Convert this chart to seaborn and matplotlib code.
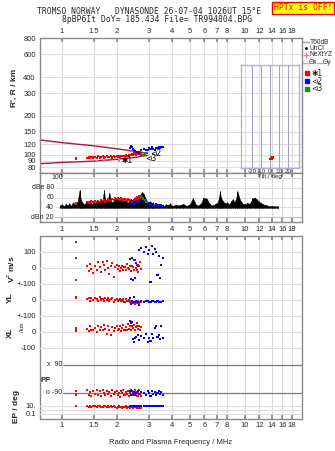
import matplotlib
matplotlib.use("Agg")
import matplotlib.pyplot as plt
import seaborn as sns
from matplotlib.lines import Line2D
from matplotlib.ticker import FixedLocator, FixedFormatter, NullLocator

sns.set_theme(style="white")
plt.rcParams['font.family'] = ['Liberation Sans', 'DejaVu Sans']

# ---- data ----
freq_ticks = [1, 1.5, 2, 3, 4, 5, 6, 7, 8, 10, 12, 14, 16, 18]
freq_labels = ["1", "1.5", "2", "3", "4", "5", "6", "7", "8", "10", "12", "14", "16", "18"]
height_ticks = [80, 90, 100, 120, 150, 200, 300, 400, 600, 800]
tilt_ticks = [-20, -10, 0, 10, 20]
tilt_labels = ["-20", "-10", "0", "10", "20"]

# O-mode trace (1), red
red_freq = [1.20, 1.20, 1.20, 1.37, 1.40, 1.42, 1.45, 1.48, 1.52, 1.55, 1.58, 1.61, 1.64,
            1.67, 1.70, 1.73, 1.76, 1.79, 1.82, 1.86, 1.89, 1.93, 1.96, 1.99, 2.02, 2.05,
            2.08, 2.11, 2.14, 2.17, 2.20, 2.23, 2.26, 2.29, 2.32, 2.35, 2.38, 2.41, 2.44,
            2.47, 2.50, 2.53, 2.56, 2.59, 2.62, 2.65, 2.68, 2.70]
red_height = [93, 94, 92, 94, 95, 94, 96, 95, 96, 94, 97, 95, 96, 97, 95, 96, 97, 96,
              96, 97, 95, 97, 96, 97, 96, 98, 96, 97, 97, 98, 97, 99, 98, 98, 99, 100,
              99, 101, 100, 102, 101, 100, 103, 101, 103, 102, 104, 102]
red_amp = [48, 47, 49, 50, 51, 49, 52, 50, 53, 51, 52, 50, 54, 52, 55, 51, 53, 56,
           54, 52, 57, 55, 58, 56, 59, 57, 55, 58, 56, 54, 57, 55, 53, 56, 54, 52,
           55, 53, 51, 54, 56, 58, 55, 60, 57, 62, 59, 61]
red_vz = [165, 65, -75, 10, -20, 25, -5, -30, 15, -10, 35, 5, -25, 40, 20, -15, 45, 0,
          -35, 10, 30, -55, 5, 20, -5, 15, -20, 0, 10, -10, 5, -15, 25, 0, -5, 10,
          -20, 15, 5, -10, 50, 0, -15, 20, -25, 10, 35, -5]
red_yl = [20, 12, 15, 5, 15, -5, 10, 0, 12, 5, -8, 20, 3, 8, -5, 15, 0, 10,
          -3, 5, 12, -10, 2, 5, -5, 0, 8, -8, -3, 3, -10, 5, -5, -8, 0, -15,
          -5, -12, -20, -10, -25, -15, -5, -18, -8, -22, -12, -15]
red_xl = [25, 8, 15, 20, 5, 35, 10, 15, 25, 0, 40, 15, 30, 10, 45, 20, -10, 35,
          15, -20, 30, 5, 25, 40, 10, 20, 35, 5, 25, 45, 15, 30, 10, 50, 20, 35,
          15, 40, 25, 45, 10, 30, 55, 35, 20, 40, 15, 30]
red_pp = [-100, -80, -95, -70, -105, -85, -110, -75, -95, -68, -100, -80, -112,
          -72, -90, -105, -78, -95, -85, -110, -70, -98, -82, -76, -102, -88, -115,
          -80, -92, -70, -105, -84, -96, -78, -110, -90, -72, -100, -86, -104, -74,
          -95, -82, -108, -88, -70, -98, -112]
red_ep = [10, 8, 9, 9, 7, 10, 6, 8, 9, 5, 8, 10, 7, 6, 9, 8, 5, 10, 7, 9, 6, 8, 5,
          4, 6, 8, 5, 7, 4, 6, 5, 9, 4, 5, 7, 4, 6, 5, 4, 8, 5, 6, 4, 7, 5, 3, 6, 4]

# X-mode trace (2), blue
blue_freq = [2.35, 2.38, 2.42, 2.45, 2.48, 2.52, 2.55, 2.60, 2.65, 2.72, 2.80, 2.88,
             2.95, 3.00, 3.05, 3.10, 3.15, 3.22, 3.28, 3.33, 3.38, 3.44, 3.50, 3.56]
blue_height = [112, 116, 114, 110, 108, 106, 105, 104, 103, 108, 111, 109,
               108, 112, 110, 114, 111, 109, 112, 113, 114, 113, 114, 115]
blue_amp = [50, 48, 52, 46, 50, 47, 53, 49, 51, 55, 52, 50,
            46, 48, 44, 47, 45, 43, 46, 44, 45, 43, 44, 42]
blue_vz = [55, -70, 60, -75, 50, -60, 30, 10, 115, 125, 100, 130,
           90, 110, -85, 140, 85, 120, 100, -45, 75, -65, 20, 65]
blue_yl = [10, -25, -5, -15, 20, -10, -5, -15, -30, -5, -10, -5,
           -8, -10, -12, -8, -5, -10, -12, -8, -10, -12, -10, -5]
blue_xl = [70, 55, 60, -45, -60, -35, -30, -20, -50, -25, -40, -15,
           -60, -35, -55, -10, -40, 25, 35, -30, -20, -45, 40, -40]
blue_pp = [-80, -100, -75, -95, -85, -105, -90, -78, -98, -85, -92, -102,
           -80, -88, -108, -76, -96, -84, -100, -90, -78, -94, -86, -102]
blue_ep = [10, 12, 9, 11, 10, 8, 12, 10, 11, 9, 10, 12, 11, 10, 9, 11, 10, 12, 10, 11, 10, 10, 11, 10]

# trace 3, green
green_freq = [2.72, 2.78, 2.84, 2.90]
green_height = [98, 100, 101, 103]
green_amp = [62, 58, 55, 50]

# NeXtYZ points
pink_freq = [1.55, 1.70, 2.05]
pink_height = [89, 89, 90]

# trace labels
trace_text = ["\u27311", "\u22b22", "\u22b23"]
trace_freq = [2.12, 3.02, 2.86]
trace_height = [90, 102, 94]

# model curves (dark red)
upper_freq = [0.76, 1.0, 1.5, 2.0, 2.5, 2.85]
upper_height = [130, 124, 117, 111, 106, 103]
lower_freq = [0.76, 1.0, 1.5, 2.0, 2.5, 2.95]
lower_height = [85, 87, 89, 92, 95, 99]

# tilt inset
tilt_deg = [0.5, 1.5, 2.5, 2.0]
tilt_height = [89, 90, 92, 91]

# amplitude (dB) vs frequency
amp_freq = [0.98, 1.00, 1.03, 1.05, 1.08, 1.10, 1.12, 1.15, 1.18, 1.22, 1.25, 1.27, 1.30,
            1.33, 1.36, 1.40, 1.43, 1.46, 1.50, 1.53, 1.56, 1.60, 1.63, 1.66, 1.70, 1.72,
            1.75, 1.78, 1.82, 1.85, 1.88, 1.92, 1.96, 2.00, 2.05, 2.10, 2.15, 2.20, 2.25,
            2.30, 2.35, 2.40, 2.45, 2.50, 2.55, 2.60, 2.65, 2.70, 2.75, 2.80, 2.85, 2.90,
            2.95, 3.00, 3.05, 3.10, 3.15, 3.20, 3.30, 3.40, 3.50, 3.60, 3.70, 3.80, 3.90,
            4.00, 4.20, 4.40, 4.60, 4.80, 5.00, 5.20, 5.40, 5.60, 5.80, 5.90, 6.00, 6.10,
            6.20, 6.30, 6.50, 6.70, 6.90, 7.10, 7.20, 7.30, 7.40, 7.60, 7.80, 8.00, 8.20,
            8.40, 8.60, 8.80, 9.00, 9.10, 9.30, 9.50, 9.70, 10.0, 10.3, 10.6, 11.0, 11.3,
            11.6, 11.9, 12.2, 12.5, 12.8, 13.2, 13.6, 14.0, 14.5, 15.0, 15.2]
amp_db = [44, 46, 42, 47, 44, 48, 43, 50, 46, 52, 75, 55, 49,
          46, 50, 48, 52, 47, 51, 49, 54, 50, 55, 50, 75, 58,
          52, 56, 69, 55, 50, 53, 56, 58, 54, 56, 52, 55, 51,
          50, 53, 52, 57, 55, 60, 58, 64, 68, 71, 67, 60, 54,
          50, 48, 52, 46, 50, 44, 47, 45, 43, 42, 46, 44, 48,
          43, 45, 44, 47, 43, 46, 59, 45, 44, 50, 58, 59, 58,
          57, 52, 45, 44, 47, 50, 58, 73, 60, 52, 48, 50, 46,
          52, 57, 50, 62, 73, 60, 52, 48, 46, 49, 47, 58, 60,
          56, 52, 49, 47, 45, 44, 42, 43, 42, 42, 42]

amp_ticks = [100, 80, 60, 40, 20]
amp_labels = ["100", "dBe 80", "60", "40", "dBn 20"]

# ---- layout helpers (pixels of a 335x451 canvas) ----
W, H = 335, 451
FREQ_LIM = (0.76, 20.5)
FRAME = '#8a8a8a'
GRID = '#dcdcdc'
RED, BLUE, GREEN = '#ff0000', '#0000ff', '#109010'
CURVE = '#a8183c'
FS = 5.5
DOT = 2.2


def box(x0, y0, x1, y1):
    return [x0 / W, 1 - y1 / H, (x1 - x0) / W, (y1 - y0) / H]


def at(x, y):
    return (x / W, 1 - y / H)


fig = plt.figure(figsize=(3.35, 4.51), dpi=100)
fig.patch.set_facecolor('white')


def freq_axis(ax, top=False, bottom=False, pad=2.5):
    ax.set_xscale('log')
    ax.set_xlim(*FREQ_LIM)
    ax.xaxis.set_major_locator(FixedLocator(freq_ticks))
    ax.xaxis.set_major_formatter(FixedFormatter(freq_labels))
    ax.xaxis.set_minor_locator(NullLocator())
    ax.tick_params(axis='x', which='major', direction='in', length=3, color=FRAME,
                   top=True, bottom=True, labeltop=top, labelbottom=bottom,
                   labelsize=FS, pad=pad)
    for f in freq_ticks:
        ax.axvline(f, color=GRID, lw=0.8, zorder=0)
    for sp in ax.spines.values():
        sp.set_color(FRAME)
        sp.set_linewidth(1)


def dots(ax, x, y, color, s=DOT):
    sns.scatterplot(x=x, y=y, ax=ax, color=color, marker='s', s=s, linewidth=0,
                    edgecolor='none', zorder=3, legend=False)


# ---- heights panel ----
ax_h = fig.add_axes(box(40, 38, 302, 173))
freq_axis(ax_h, top=True, pad=2.5)
ax_h.set_yscale('log')
ax_h.yaxis.set_major_locator(FixedLocator(height_ticks))
ax_h.yaxis.set_major_formatter(FixedFormatter([str(t) for t in height_ticks]))
ax_h.yaxis.set_minor_locator(NullLocator())
ax_h.tick_params(axis='y', which='both', length=0, labelsize=FS, pad=3)
for h in height_ticks:
    ax_h.axhline(h, color=GRID, lw=0.8, zorder=0)

sns.lineplot(x=upper_freq, y=upper_height, ax=ax_h, color=CURVE, lw=1, sort=False, estimator=None)
sns.lineplot(x=lower_freq, y=lower_height, ax=ax_h, color=CURVE, lw=1, sort=False, estimator=None)
dots(ax_h, red_freq, red_height, RED)
dots(ax_h, blue_freq, blue_height, BLUE)
dots(ax_h, green_freq, green_height, GREEN)
dots(ax_h, pink_freq, pink_height, '#e07aa0')
for t, f, h in zip(trace_text, trace_freq, trace_height):
    ax_h.text(f, h, t, fontsize=5.5, color='black', ha='left', va='center', zorder=4,
              family=['DejaVu Sans'])
ax_h.set_xlim(*FREQ_LIM)
ax_h.set_ylim(72, 805)
ax_h.set_xlabel('')
ax_h.set_ylabel('')

# ---- amplitude panel ----
ax_a = fig.add_axes(box(40, 173, 302, 222))
freq_axis(ax_a, bottom=True, pad=3)
ax_a.set_yticks([])
ax_a.vlines(amp_freq, 39, amp_db, color='black', lw=0.6, zorder=2)
ax_a.fill_between(amp_freq, 39, amp_db, color='black', lw=0.3, zorder=2)
dots(ax_a, red_freq, red_amp, RED)
dots(ax_a, blue_freq, blue_amp, BLUE)
dots(ax_a, green_freq, green_amp, GREEN)
ax_a.set_xlim(*FREQ_LIM)
ax_a.set_ylim(10, 110)
ytr = ax_a.get_yaxis_transform()
for v, lab in zip(amp_ticks, amp_labels):
    xr = 0.088 if v == 100 else 0.053
    ax_a.text(xr, v, lab, transform=ytr, ha='right', va='center', fontsize=5)
    ax_a.axhline(v, xmin=xr + 0.005, color='#b8c0e8' if v == 20 else GRID, lw=0.8, zorder=0)
ax_a.set_xlabel('')
ax_a.set_ylabel('')

# ---- tilt inset ----
ax_t = fig.add_axes(box(241, 65, 299, 168))
ax_t.patch.set_alpha(0)
ax_t.set_yscale('log')
ax_t.set_xlim(-32, 32)
ax_t.set_ylim(72, 805)
ax_t.yaxis.set_major_locator(NullLocator())
ax_t.yaxis.set_minor_locator(NullLocator())
ax_t.set_xticks(tilt_ticks, tilt_labels)
ax_t.tick_params(axis='x', length=0, labelsize=4.5, pad=1)
for t in tilt_ticks:
    ax_t.axvline(t, color='#a4a4be', lw=0.8, zorder=0)
for sp in ax_t.spines.values():
    sp.set_color('#b4b4cc')
    sp.set_linewidth(1)
dots(ax_t, tilt_deg, tilt_height, RED, s=4)
ax_t.set_xlim(-32, 32)
ax_t.set_ylim(72, 805)
ax_t.set_xlabel('Tilt / deg', fontsize=4.5, labelpad=0)
ax_t.set_ylabel('')

# ---- parameter panel frame ----
ax_m = fig.add_axes(box(40, 236, 302, 419))
freq_axis(ax_m, bottom=True, pad=2)
ax_m.set_yticks([])
ax_m.set_ylim(0, 1)
ax_m.set_xlabel('Radio and Plasma Frequency / MHz', fontsize=FS, labelpad=7)


def band(y0, y1, ylim, log=False):
    ax = fig.add_axes(box(40, y0, 302, y1))
    ax.patch.set_alpha(0)
    ax.set_xscale('log')
    if log:
        ax.set_yscale('log')
    ax.xaxis.set_major_locator(NullLocator())
    ax.xaxis.set_minor_locator(NullLocator())
    ax.yaxis.set_minor_locator(NullLocator())
    ax.tick_params(axis='both', which='both', length=0, labelsize=FS, pad=3)
    for sp in ax.spines.values():
        sp.set_visible(False)
    return ax, ylim


def finish(ax, ylim):
    ax.set_xlim(*FREQ_LIM)
    ax.set_ylim(*ylim)
    ax.set_xlabel('')
    ax.set_ylabel('')


ax_vz, lim_vz = band(236, 300, (-200, 200))
ax_vz.set_yticks([100, 0, -100], ["100", "0", "+-100"])
for v in [100, 0, -100]:
    ax_vz.axhline(v, color=GRID, lw=0.8, zorder=0)
dots(ax_vz, red_freq, red_vz, RED)
dots(ax_vz, blue_freq, blue_vz, BLUE)
finish(ax_vz, lim_vz)

ax_yl, lim_yl = band(284, 316, (-100, 100))
ax_yl.set_yticks([0], ["0"])
ax_yl.axhline(0, color=GRID, lw=0.8, zorder=0)
dots(ax_yl, red_freq, red_yl, RED)
dots(ax_yl, blue_freq, blue_yl, BLUE)
finish(ax_yl, lim_yl)

ax_xl, lim_xl = band(300, 364, (-200, 200))
ax_xl.set_yticks([100, 0, -100], ["+-100", "0", "-100"])
for v in [100, 0, -100]:
    ax_xl.axhline(v, color=GRID, lw=0.8, zorder=0)
dots(ax_xl, red_freq, red_xl, RED)
dots(ax_xl, blue_freq, blue_xl, BLUE)
finish(ax_xl, lim_xl)

ax_pp, lim_pp = band(358, 400, (-135, 135))
ax_pp.yaxis.set_major_locator(NullLocator())
ptr = ax_pp.get_yaxis_transform()
for v, lab in zip([90, -90], ["x  90", "o -90"]):
    ax_pp.text(0.084, v, lab, transform=ptr, ha='right', va='center', fontsize=5)
    ax_pp.axhline(v, xmin=0.088, color='#7a7a7a', lw=0.9, zorder=0)
dots(ax_pp, red_freq, red_pp, RED)
dots(ax_pp, blue_freq, blue_pp, BLUE)
finish(ax_pp, lim_pp)

ax_ep, lim_ep = band(400, 419, (10 ** -2.25, 10 ** 2.5), log=True)
ax_ep.set_yticks([10, 0.1], ["10.", "0.1"])
ax_ep.yaxis.set_minor_locator(NullLocator())
for v in [10, 1, 0.1]:
    ax_ep.axhline(v, color=GRID, lw=0.8, zorder=0)
dots(ax_ep, red_freq, red_ep, RED)
dots(ax_ep, blue_freq, blue_ep, BLUE)
finish(ax_ep, lim_ep)

# ---- axis titles ----
bold = dict(fontsize=6, fontweight='bold', ha='center', va='center', rotation=90)
fig.text(*at(14, 88), "R', R / km", **bold)
fig.text(*at(10, 269), r"V$^{\rm z}$ m/s", **bold)
fig.text(*at(10, 298), "YL", **bold)
fig.text(*at(23, 327), "/km", fontsize=4.2, ha='center', va='center', rotation=90)
fig.text(*at(10, 333), "XL", **bold)
fig.text(*at(16, 406), "EP / deg", **bold)
fig.text(*at(46, 380), "PP", fontsize=FS, fontweight='bold', ha='center', va='center')

# ---- header ----
mono = ['DejaVu Sans Mono']
fig.text(*at(149, 12), "TROMSO NORWAY   DYNASONDE 26-07-04 1026UT 15\u00b0E",
         family=mono, fontsize=5.8, ha='center', va='center')
fig.text(*at(157, 20), "8pBP6It DoY= 185.434 File= TR994804.BPG",
         family=mono, fontsize=5.8, ha='center', va='center')
fig.text(*at(303, 8), "HPTx is OFF!", family=mono, fontsize=5.8, color='red',
         ha='center', va='center',
         bbox=dict(facecolor='#ffff00', edgecolor='red', lw=1, pad=1.2))


# ---- legend ----
def leg_line(x0, x1, y, color):
    fig.add_artist(Line2D([x0 / W, x1 / W], [1 - y / H] * 2, color=color, lw=1))


def leg_mark(x, y, color, marker, ms):
    fig.add_artist(Line2D([x / W], [1 - y / H], color=color, marker=marker, ms=ms,
                          lw=0, mec=color))


LFS = 4.8
leg_line(303, 309, 42, '#a0a0a0')
fig.text(*at(310, 42), "T60dB", fontsize=LFS, va='center')
leg_mark(306, 48, 'black', '.', 2)
fig.text(*at(310, 48), "UnCl", fontsize=LFS, va='center')
leg_mark(306, 55, '#e07aa0', '+', 4)
fig.text(*at(309, 55), "NeXtYZ", fontsize=LFS, va='center')
leg_line(303, 309, 63, '#f0a0a8')
fig.text(*at(309, 63), "\u0398x", fontsize=LFS, va='center')
leg_line(317, 323, 63, '#a0a8f0')
fig.text(*at(323, 63), "\u0398y", fontsize=LFS, va='center')
for y, c, lab in zip([73, 81, 89], [RED, BLUE, GREEN], trace_text):
    leg_mark(307, y, c, 's', 2.2)
    fig.text(*at(311, y), lab, fontsize=5.5, va='center', family=['DejaVu Sans'])

fig.savefig('out.png', dpi=100, facecolor='white')
